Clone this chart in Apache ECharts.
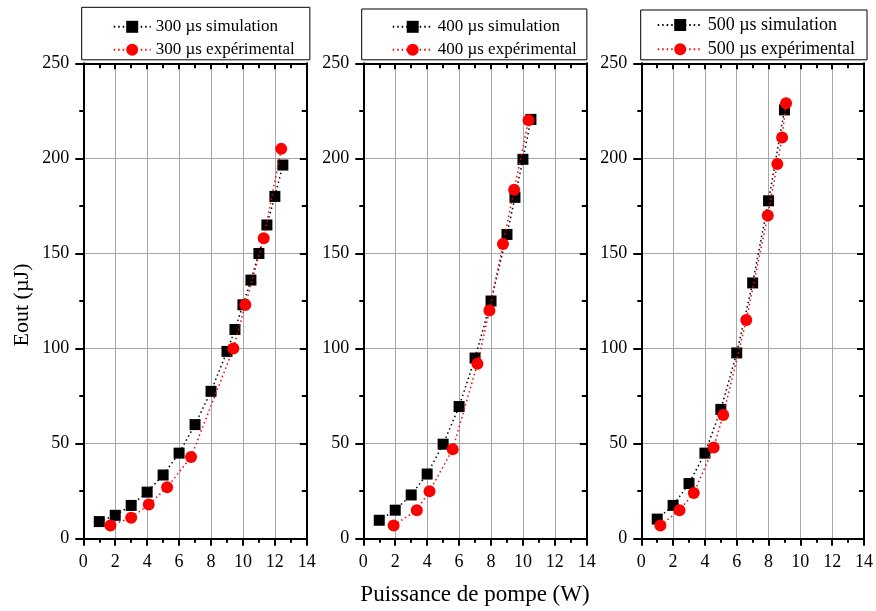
<!DOCTYPE html>
<html><head><meta charset="utf-8">
<script src="https://cdn.jsdelivr.net/npm/echarts@6/dist/echarts.min.js"></script>
<style>html,body{margin:0;padding:0;background:#fff}#c{width:876px;height:611px}</style>
</head><body><div id="c"></div>
<script>
// ---- data ----
const xTicks = [0, 2, 4, 6, 8, 10, 12, 14];
const yTicks = [0, 50, 100, 150, 200, 250];

const sim300X = [1, 2, 3, 4, 5, 6, 7, 8, 9, 9.5, 10, 10.5, 11, 11.5, 12, 12.5];
const sim300Y = [9, 12.3, 17.5, 24.5, 33.5, 45, 60, 77.5, 98.5, 110, 123, 136, 150, 165, 180, 196.5];
const exp300X = [1.7, 3, 4.1, 5.25, 6.75, 9.4, 10.15, 11.3, 12.4];
const exp300Y = [7, 11, 18, 27, 43, 100, 123, 158, 205];

const sim400X = [1, 2, 3, 4, 5, 6, 7, 8, 9, 9.5, 10, 10.5];
const sim400Y = [9.7, 15, 23, 34, 49.7, 69.5, 95, 125, 160, 179.5, 199.5, 220.5];
const exp400X = [1.9, 3.35, 4.15, 5.6, 7.15, 7.9, 8.75, 9.45, 10.35];
const exp400Y = [7, 15, 25, 47, 92, 120, 155, 183.5, 220];

const sim500X = [1, 2, 3, 4, 5, 6, 7, 8, 9];
const sim500Y = [10.3, 17.5, 29, 45, 68, 97.7, 134.5, 177.7, 225.5];
const exp500X = [1.2, 2.4, 3.3, 4.55, 5.15, 6.6, 7.95, 8.55, 8.85, 9.1];
const exp500Y = [7, 15, 24, 48, 65, 115, 170, 197, 211, 229];

const durations = ['300', '400', '500'];
const simNames = durations.map(d => d + ' \u00b5s simulation');
const expNames = durations.map(d => d + ' \u00b5s exp\u00e9rimental');
const xTitle = 'Puissance de pompe (W)';
const yTitle = 'Eout (\u00b5J)';

// ---- layout / style ----
const FONT = '"Liberation Serif", "Times New Roman", serif';
const simXs = [sim300X, sim400X, sim500X], simYs = [sim300Y, sim400Y, sim500Y];
const expXs = [exp300X, exp400X, exp500X], expYs = [exp300Y, exp400Y, exp500Y];
const gridLefts = [83.3, 363.3, 641.3];
const gridW = 223.5, gridTop = 63.3, gridH = 475.4;
const legendCfg = [
  {left: 81.7, top: 7.3, padding: [11, 15, 1.5, 31], itemWidth: 37, fontSize: 17, gap: 6},
  {left: 361.7, top: 9, padding: [9.3, 10, 1.5, 30], itemWidth: 40, fontSize: 17, gap: 6},
  {left: 640.7, top: 10, padding: [6, 12, 1.5, 16], itemWidth: 45, fontSize: 18, gap: 6.3}
];

const zip = (a, b) => a.map((v, i) => [v, b[i]]);
const grids = [], xAxes = [], yAxes = [], series = [], legends = [];
const axisLine = {show: true, onZero: false, lineStyle: {color: '#000', width: 2}};
const gridLine = {show: true, lineStyle: {color: '#a6a6a6', width: 1}};
const dots = [1.5, 3];

for (let g = 0; g < 3; g++) {
  grids.push({left: gridLefts[g], top: gridTop, width: gridW, height: gridH, containLabel: false});
  xAxes.push({
    type: 'value', gridIndex: g, position: 'bottom', min: xTicks[0], max: xTicks[xTicks.length - 1], interval: 2,
    axisLine: axisLine,
    axisTick: {show: true, inside: false, length: 7, lineStyle: {color: '#000', width: 2}},
    minorTick: {show: true, splitNumber: 2, length: 4, lineStyle: {color: '#000', width: 2}},
    axisLabel: {show: true, margin: 15, fontFamily: FONT, fontSize: 18, color: '#000'},
    splitLine: gridLine
  });
  xAxes.push({
    type: 'value', gridIndex: g, position: 'top', min: xTicks[0], max: xTicks[xTicks.length - 1], interval: 2,
    axisLine: axisLine,
    axisTick: {show: true, inside: true, length: 6, lineStyle: {color: '#000', width: 2}},
    minorTick: {show: true, splitNumber: 2, length: 5, lineStyle: {color: '#000', width: 2}},
    axisLabel: {show: false}, splitLine: {show: false}
  });
  yAxes.push({
    type: 'value', gridIndex: g, position: 'left', min: yTicks[0], max: yTicks[yTicks.length - 1], interval: 50,
    axisLine: axisLine,
    axisTick: {show: true, inside: false, length: 8, lineStyle: {color: '#000', width: 2}},
    minorTick: {show: true, splitNumber: 2, length: 4, lineStyle: {color: '#000', width: 2}},
    axisLabel: {show: true, margin: 14, fontFamily: FONT, fontSize: 18, color: '#000'},
    splitLine: gridLine
  });
  yAxes.push({
    type: 'value', gridIndex: g, position: 'right', min: yTicks[0], max: yTicks[yTicks.length - 1], interval: 50,
    axisLine: axisLine,
    axisTick: {show: true, inside: true, length: 7, lineStyle: {color: '#000', width: 2}},
    minorTick: {show: true, splitNumber: 2, length: 5, lineStyle: {color: '#000', width: 2}},
    axisLabel: {show: false}, splitLine: {show: false}
  });
  series.push({
    name: simNames[g], type: 'line', xAxisIndex: 2 * g, yAxisIndex: 2 * g,
    data: zip(simXs[g], simYs[g]),
    symbol: 'rect', symbolSize: 11, showAllSymbol: true,
    lineStyle: {color: '#000', width: 1.5, type: dots},
    itemStyle: {color: '#000'}, z: 3, animation: false
  });
  series.push({
    name: expNames[g], type: 'line', xAxisIndex: 2 * g, yAxisIndex: 2 * g,
    data: zip(expXs[g], expYs[g]),
    symbol: 'circle', symbolSize: 12, showAllSymbol: true,
    lineStyle: {color: '#ff0000', width: 1.5, type: dots},
    itemStyle: {color: '#ff0000'}, z: 4, animation: false
  });
  const L = legendCfg[g];
  legends.push({
    data: [simNames[g], expNames[g]], orient: 'vertical', left: L.left, top: L.top,
    padding: L.padding, itemWidth: L.itemWidth, itemHeight: 15, itemGap: L.gap,
    borderColor: '#000', borderWidth: 1, backgroundColor: '#fff', borderRadius: 0,
    textStyle: {fontFamily: FONT, fontSize: L.fontSize, color: '#000'},
    selectedMode: false, z: 10
  });
}

const chart = echarts.init(document.getElementById('c'), null, {renderer: 'canvas'});
chart.setOption({
  backgroundColor: '#fff',
  animation: false,
  grid: grids, xAxis: xAxes, yAxis: yAxes, series: series, legend: legends,
  graphic: [
    {type: 'text', x: 475, y: 595, style: {text: xTitle, font: '23px ' + FONT, fill: '#000', textAlign: 'center', textVerticalAlign: 'middle'}},
    {type: 'text', x: 22, y: 305, rotation: Math.PI / 2, style: {text: yTitle, font: '22px ' + FONT, fill: '#000', textAlign: 'center', textVerticalAlign: 'middle'}}
  ]
});
</script></body></html>
